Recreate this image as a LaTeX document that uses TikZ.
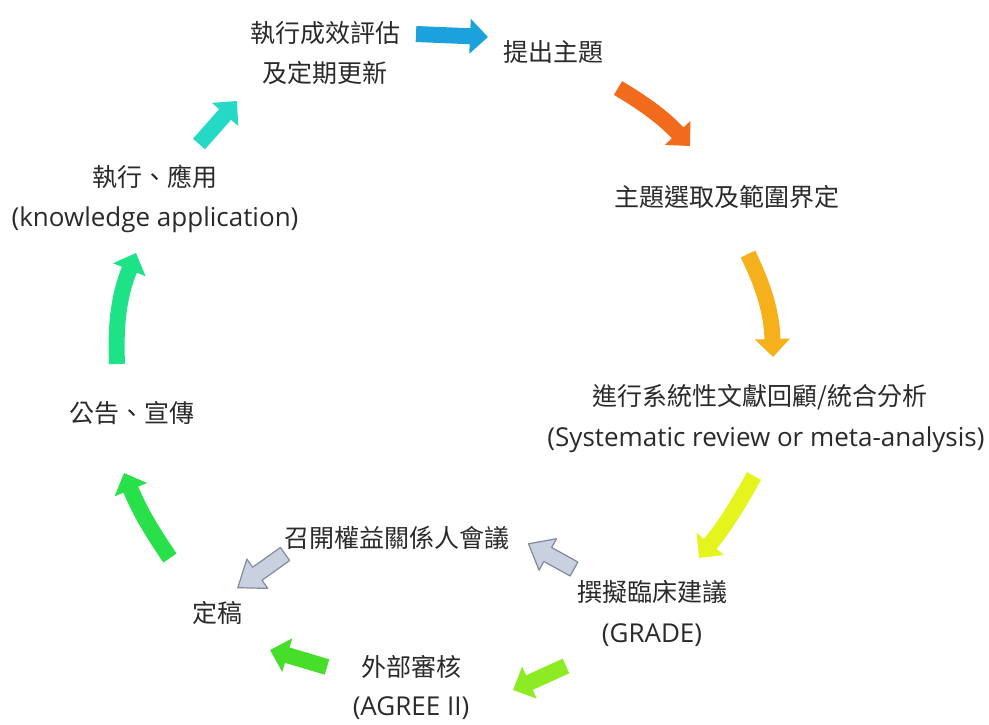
\documentclass[tikz,border=0pt]{standalone}
\usepackage{fontspec}
\setmainfont{Noto Sans CJK TC}
\newfontfamily\latinfont{Open Sans}
\usetikzlibrary{arrows.meta}
\definecolor{txt}{HTML}{2A2A2A}
\definecolor{cblue}{HTML}{1BA1DB}
\definecolor{corange}{HTML}{F26B1D}
\definecolor{camber}{HTML}{F6B01C}
\definecolor{cyellow}{HTML}{E4F41C}
\definecolor{cyg}{HTML}{8DEB24}
\definecolor{cgreenA}{HTML}{46DE2A}
\definecolor{cgreenB}{HTML}{28E04A}
\definecolor{cgt}{HTML}{1EE386}
\definecolor{cteal}{HTML}{26D8C6}
\definecolor{gfill}{HTML}{C9D1E1}
\definecolor{gline}{HTML}{7F8A9C}
\tikzset{
  lbl/.style={inner sep=0pt, text=txt, font=\fontsize{25}{30}\selectfont},
  lat/.style={inner sep=0pt, text=txt, font=\latinfont\fontsize{26}{31}\selectfont},
  blk/.style={line width=16pt, -{Triangle[length=18pt,width=34pt]}},
  greyarr/.style={fill=gfill, draw=gline, line width=1.2pt, line join=round}
}
\begin{document}
\begin{tikzpicture}[x=1pt,y=-1pt]
\useasboundingbox (0,0) rectangle (989,724);
% labels
\node[lbl] (t1a) at (325,33) {執行成效評估};
\node[lbl] (t1b) at (325,73) {及定期更新};
\node[lbl] (t2) at (553,52) {提出主題};
\node[lbl] (t3) at (727,197) {主題選取及範圍界定};
\node[lbl] (t4a) at (760,397) {進行系統性文獻回顧/統合分析};
\node[lat] (t4b) at (766,440) {(Systematic review or meta-analysis)};
\node[lbl] (t5a) at (652,592) {撰擬臨床建議};
\node[lat] (t5b) at (652,635) {(GRADE)};
\node[lbl] (t6) at (397,538) {召開權益關係人會議};
\node[lbl] (t7) at (217,613) {定稿};
\node[lbl] (t8a) at (411,667) {外部審核};
\node[lat] (t8b) at (411,708) {(AGREE II)};
\node[lbl] (t9) at (132,413) {公告、宣傳};
\node[lbl] (t10a) at (155,177) {執行、應用};
\node[lat] (t10b) at (155,220) {(knowledge application)};
% arrow end points
\coordinate (a1s) at (416,34);  \coordinate (a1e) at (488,37);
\coordinate (a2s) at (618,88);  \coordinate (a2e) at (690,146);
\coordinate (a3s) at (748,254); \coordinate (a3e) at (773,357);
\coordinate (a4s) at (754,476); \coordinate (a4e) at (699,558);
\coordinate (a7s) at (566,666); \coordinate (a7e) at (513,690);
\coordinate (a8s) at (327,667); \coordinate (a8e) at (270,650);
\coordinate (a9s) at (170,558); \coordinate (a9e) at (124,473);
\coordinate (a10s) at (117,364); \coordinate (a10e) at (136,253);
\coordinate (a11s) at (199,144); \coordinate (a11e) at (237,101);
\coordinate (g1s) at (574,569);
\coordinate (g2s) at (285,554);
% coloured arrows
\draw[blk, cblue] (a1s) -- (a1e);
\draw[blk, corange] (a2s) to[bend left=8] (a2e);
\draw[blk, camber] (a3s) to[bend left=12] (a3e);
\draw[blk, cyellow] (a4s) to[bend left=5] (a4e);
\draw[blk, cyg] (a7s) -- (a7e);
\draw[blk, cgreenA] (a8s) -- (a8e);
\draw[blk, cgreenB] (a9s) to[bend left=6] (a9e);
\draw[blk, cgt] (a10s) to[bend left=12] (a10e);
\draw[blk, cteal] (a11s) -- (a11e);
% grey arrows
\begin{scope}[shift={(g1s)}, rotate=151]
\draw[greyarr] (0,-8) -- (30,-8) -- (30,-18) -- (52,0) -- (30,18) -- (30,8) -- (0,8) -- cycle;
\end{scope}
\begin{scope}[shift={(g2s)}, rotate=215.5]
\draw[greyarr] (0,-8) -- (34,-8) -- (34,-18) -- (58,0) -- (34,18) -- (34,8) -- (0,8) -- cycle;
\end{scope}
\end{tikzpicture}
\end{document}
